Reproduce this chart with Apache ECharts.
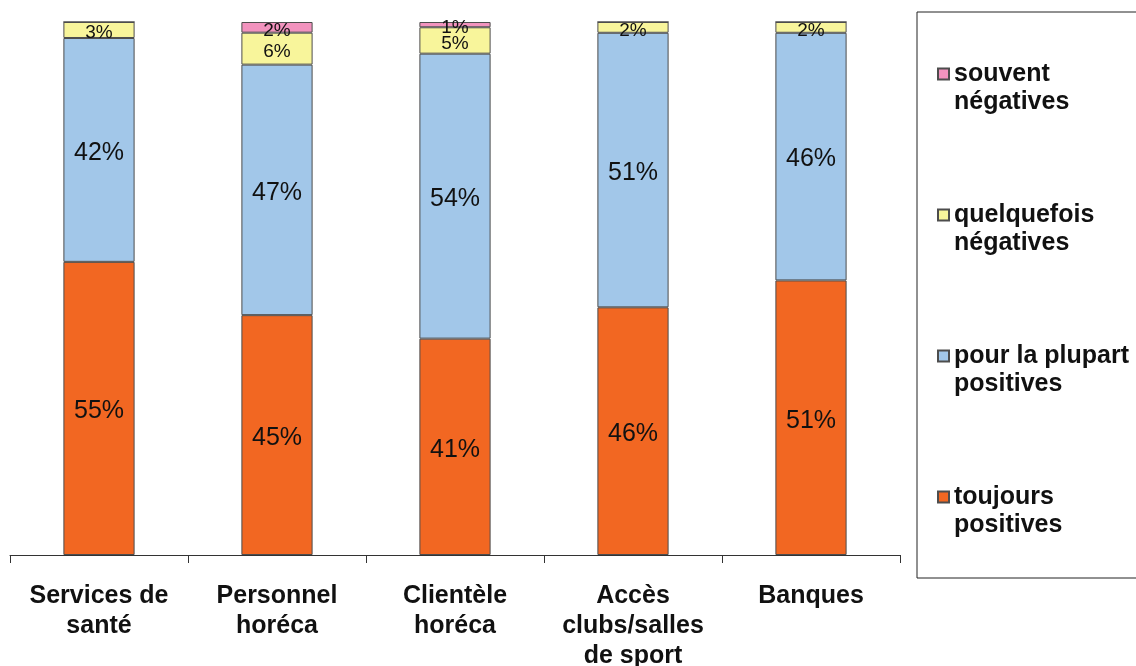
<!DOCTYPE html>
<html>
<head>
    <meta charset='utf-8'>
    <title>Perceptions</title>
    <script src='https://cdn.jsdelivr.net/npm/echarts@6/dist/echarts.min.js'></script>
    <style>
        body { margin: 0; background: #fff; }
        #chart { width: 1136px; height: 666px; }
    </style>
</head>
<body>
    <div id='chart'></div>
    <script type='text/javascript'>
        // categories and values (percent labels as printed)
        const categories = ['Services de\nsanté', 'Personnel\nhoréca', 'Clientèle\nhoréca', 'Accès\nclubs/salles\nde sport', 'Banques']
        const toujours = [55, 45, 41, 46, 51]
        const plupart = [42, 47, 54, 51, 46]
        const quelquefois = [3, 6, 5, 2, 2]
        const souvent = [0, 2, 1, 0, 0]

        const seriesNames = ['toujours\npositives', 'pour la plupart\npositives', 'quelquefois\nnégatives', 'souvent\nnégatives']
        const colors = ['#F26722', '#A2C7E9', '#F8F59B', '#F293BE']
        const raw = [toujours, plupart, quelquefois, souvent]

        // 100% stacked: each bar normalised to its own total
        const totals = categories.map((c, i) => raw.reduce((s, arr) => s + arr[i], 0))

        const series = raw.map((arr, k) => ({
            name: seriesNames[k],
            type: 'bar',
            stack: 'all',
            barWidth: '40%',
            itemStyle: { color: colors[k], borderColor: '#4d4d4d', borderWidth: 1 },
            label: {
                show: true,
                position: 'inside',
                offset: [0, 3],
                color: '#111',
                fontFamily: 'Liberation Sans',
                fontSize: k < 2 ? 25 : 19,
                formatter: p => arr[p.dataIndex] > 0 ? arr[p.dataIndex] + '%' : ''
            },
            data: arr.map((v, i) => v / totals[i] * 100)
        }))

        const chart = echarts.init(document.getElementById('chart'))
        chart.setOption({
            animation: false,
            grid: { left: 10, right: 236, top: 22, bottom: 111, outerBoundsMode: 'none' },
            legend: {
                orient: 'vertical',
                left: 917,
                top: 12,
                data: seriesNames.slice().reverse(),
                // leading blank line puts the marker beside the first line
                formatter: name => ' \n' + name,
                icon: 'rect',
                itemWidth: 11,
                itemHeight: 11,
                itemGap: 57,
                padding: [20, 40, 39, 20],
                borderColor: '#222',
                borderWidth: 1,
                textStyle: {
                    fontFamily: 'Liberation Sans',
                    fontWeight: 'bold',
                    fontSize: 25,
                    lineHeight: 28,
                    color: '#111'
                }
            },
            xAxis: {
                type: 'category',
                data: categories,
                axisLine: { lineStyle: { color: '#333', width: 1 } },
                axisTick: { show: true, alignWithLabel: false, length: 8, lineStyle: { color: '#333', width: 1 } },
                axisLabel: {
                    margin: 26,
                    interval: 0,
                    fontFamily: 'Liberation Sans',
                    fontWeight: 'bold',
                    fontSize: 25,
                    lineHeight: 30,
                    color: '#111'
                }
            },
            yAxis: {
                type: 'value',
                min: 0,
                max: 100,
                show: false
            },
            series
        })
    </script>
</body>
</html>
